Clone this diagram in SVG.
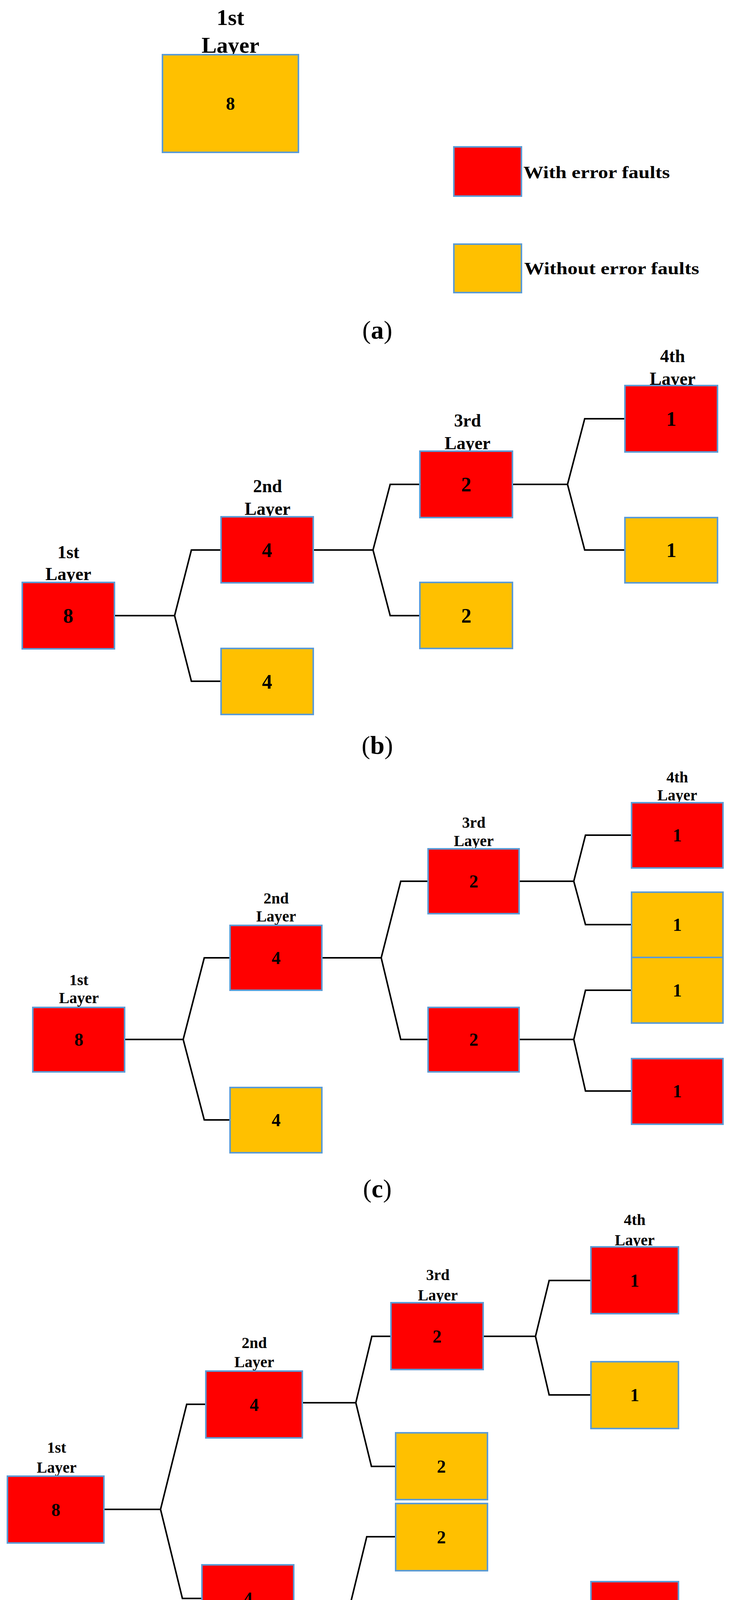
<svg xmlns="http://www.w3.org/2000/svg" width="1869" height="4716" viewBox="0 0 1869 4716">
<style>
.r{fill:#FF0000;stroke:#5B9BD5;stroke-width:4}
.y{fill:#FFC000;stroke:#5B9BD5;stroke-width:4}
text{font-family:"Liberation Serif","Times New Roman",serif;font-weight:bold;fill:#000;text-anchor:middle}
.c path{fill:none;stroke:#000;stroke-width:4}
.cap{font-size:66px;font-weight:normal}
</style>
<rect width="1869" height="4716" fill="#fff"/>
<!-- (a) -->
<g id="a-n1"><text x="590" y="64" font-size="58">1st</text><text x="590" y="135" font-size="58">Layer</text><rect class="y" x="416" y="140" width="348" height="250"/><text x="590" y="281" font-size="46">8</text></g>
<g id="legend-red"><rect class="r" x="1162" y="376" width="173" height="126"/><text x="1340" y="456" font-size="44" text-anchor="start" textLength="375" lengthAdjust="spacingAndGlyphs" style="text-anchor:start">With error faults</text></g>
<g id="legend-yellow"><rect class="y" x="1162" y="625" width="173" height="124"/><text x="1342" y="702" font-size="44" textLength="448" lengthAdjust="spacingAndGlyphs" style="text-anchor:start">Without error faults</text></g>
<text class="cap" x="966" y="867">(<tspan font-weight="bold">a</tspan>)</text>
<!-- (b) -->
<g class="c" id="b-conn">
<path d="M293 1576H447L490 1408H566M447 1576L490 1744H566"/>
<path d="M802 1408H955L999 1240H1075M955 1408L999 1576H1075"/>
<path d="M1312 1240H1453L1497 1072H1600M1453 1240L1497 1408H1600"/>
</g>
<g id="b-n1"><text x="175" y="1429" font-size="46">1st</text><text x="175" y="1485" font-size="46">Layer</text><rect class="r" x="57" y="1491" width="236" height="170"/><text x="175" y="1594" font-size="52">8</text></g>
<g id="b-n2a"><text x="685" y="1260" font-size="46">2nd</text><text x="685" y="1318" font-size="46">Layer</text><rect class="r" x="566" y="1323" width="236" height="169"/><text x="684" y="1426" font-size="52">4</text></g>
<g id="b-n2b"><rect class="y" x="566" y="1660" width="236" height="169"/><text x="684" y="1763" font-size="52">4</text></g>
<g id="b-n3a"><text x="1197" y="1092" font-size="46">3rd</text><text x="1197" y="1150" font-size="46">Layer</text><rect class="r" x="1075" y="1155" width="237" height="170"/><text x="1194" y="1258" font-size="52">2</text></g>
<g id="b-n3b"><rect class="y" x="1075" y="1491" width="237" height="169"/><text x="1194" y="1594" font-size="52">2</text></g>
<g id="b-n4a"><text x="1722" y="927" font-size="46">4th</text><text x="1722" y="985" font-size="46">Layer</text><rect class="r" x="1600" y="987" width="237" height="170"/><text x="1719" y="1090" font-size="52">1</text></g>
<g id="b-n4b"><rect class="y" x="1600" y="1325" width="237" height="167"/><text x="1719" y="1426" font-size="52">1</text></g>
<text class="cap" x="966" y="1930">(<tspan font-weight="bold">b</tspan>)</text>
<!-- (c) -->
<g class="c" id="c-conn">
<path d="M319 2661H469L523 2452H589M469 2661L523 2867H589"/>
<path d="M824 2452H976L1026 2256H1096M976 2452L1026 2661H1096"/>
<path d="M1329 2256H1469L1499 2138H1617M1469 2256L1499 2367H1617"/>
<path d="M1329 2661H1469L1499 2535H1617M1469 2661L1499 2793H1617"/>
</g>
<g id="c-n1"><text x="202" y="2522" font-size="40">1st</text><text x="202" y="2568" font-size="40">Layer</text><rect class="r" x="84" y="2579" width="235" height="165"/><text x="202" y="2677" font-size="46">8</text></g>
<g id="c-n2a"><text x="707" y="2313" font-size="40">2nd</text><text x="707" y="2359" font-size="40">Layer</text><rect class="r" x="589" y="2369" width="235" height="166"/><text x="707" y="2468" font-size="46">4</text></g>
<g id="c-n2b"><rect class="y" x="589" y="2784" width="235" height="167"/><text x="707" y="2883" font-size="46">4</text></g>
<g id="c-n3a"><text x="1213" y="2119" font-size="40">3rd</text><text x="1213" y="2166" font-size="40">Layer</text><rect class="r" x="1096" y="2173" width="233" height="166"/><text x="1213" y="2272" font-size="46">2</text></g>
<g id="c-n3b"><rect class="r" x="1096" y="2579" width="233" height="165"/><text x="1213" y="2677" font-size="46">2</text></g>
<g id="c-n4a"><text x="1734" y="2003" font-size="40">4th</text><text x="1734" y="2049" font-size="40">Layer</text><rect class="r" x="1617" y="2055" width="234" height="167"/><text x="1734" y="2154" font-size="46">1</text></g>
<g id="c-n4b"><rect class="y" x="1617" y="2284" width="234" height="167"/><text x="1734" y="2383" font-size="46">1</text></g>
<g id="c-n4c"><rect class="y" x="1617" y="2451" width="234" height="168"/><text x="1734" y="2551" font-size="46">1</text></g>
<g id="c-n4d"><rect class="r" x="1617" y="2710" width="234" height="168"/><text x="1734" y="2809" font-size="46">1</text></g>
<text class="cap" x="966" y="3065">(<tspan font-weight="bold">c</tspan>)</text>
<!-- (d) -->
<g class="c" id="d-conn">
<path d="M266 3864H411L478 3595H527M411 3864L467 4092H517"/>
<path d="M774 3591H911L952 3421H1001M911 3591L951 3754H1013"/>
<path d="M752 4106H897L939 3934H1013M897 4106L939 4278H1001"/>
<path d="M1237 3421H1371L1406 3278H1513M1371 3421L1406 3571H1513"/>
<path d="M1237 4278H1371L1406 4134H1513M1371 4278L1406 4423H1513"/>
</g>
<g id="d-n1"><text x="145" y="3719" font-size="40">1st</text><text x="145" y="3770" font-size="40">Layer</text><rect class="r" x="19" y="3779" width="247" height="171"/><text x="143" y="3881" font-size="46">8</text></g>
<g id="d-n2a"><text x="651" y="3451" font-size="40">2nd</text><text x="651" y="3500" font-size="40">Layer</text><rect class="r" x="527" y="3510" width="247" height="171"/><text x="651" y="3612" font-size="46">4</text></g>
<g id="d-n2b"><rect class="r" x="517" y="4006" width="235" height="171"/><text x="635" y="4108" font-size="46">4</text></g>
<g id="d-n3a"><text x="1121" y="3277" font-size="40">3rd</text><text x="1121" y="3329" font-size="40">Layer</text><rect class="r" x="1001" y="3335" width="236" height="171"/><text x="1119" y="3437" font-size="46">2</text></g>
<g id="d-n3b"><rect class="y" x="1013" y="3668" width="235" height="171"/><text x="1130" y="3770" font-size="46">2</text></g>
<g id="d-n3c"><rect class="y" x="1013" y="3849" width="235" height="172"/><text x="1130" y="3951" font-size="46">2</text></g>
<g id="d-n3d"><rect class="r" x="1001" y="4193" width="236" height="170"/><text x="1119" y="4294" font-size="46">2</text></g>
<g id="d-n4a"><text x="1625" y="3136" font-size="40">4th</text><text x="1625" y="3188" font-size="40">Layer</text><rect class="r" x="1513" y="3192" width="224" height="171"/><text x="1625" y="3294" font-size="46">1</text></g>
<g id="d-n4b"><rect class="y" x="1513" y="3486" width="224" height="171"/><text x="1625" y="3587" font-size="46">1</text></g>
<g id="d-n4c"><rect class="r" x="1513" y="4049" width="224" height="172"/><text x="1625" y="4150" font-size="46">1</text></g>
<g id="d-n4d"><rect class="y" x="1513" y="4336" width="224" height="172"/><text x="1625" y="4439" font-size="46">1</text></g>
<text class="cap" x="966" y="4667">(<tspan font-weight="bold">d</tspan>)</text>
</svg>
